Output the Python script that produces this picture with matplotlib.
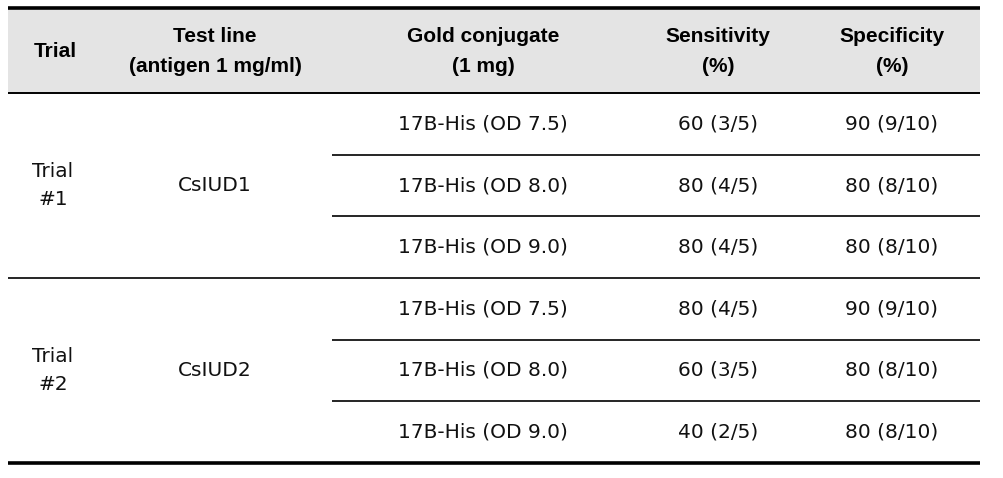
import matplotlib
matplotlib.use("Agg")
import matplotlib.pyplot as plt

# table content
headers = ["Trial", "Test line\n(antigen 1 mg/ml)", "Gold conjugate\n(1 mg)",
           "Sensitivity\n(%)", "Specificity\n(%)"]
trials = ["Trial\n#1", "Trial\n#2"]
test_lines = ["CsIUD1", "CsIUD2"]
conjugates = ["17B-His (OD 7.5)", "17B-His (OD 8.0)", "17B-His (OD 9.0)",
              "17B-His (OD 7.5)", "17B-His (OD 8.0)", "17B-His (OD 9.0)"]
sensitivity = ["60 (3/5)", "80 (4/5)", "80 (4/5)", "80 (4/5)", "60 (3/5)", "40 (2/5)"]
specificity = ["90 (9/10)", "80 (8/10)", "80 (8/10)", "90 (9/10)", "80 (8/10)", "80 (8/10)"]

W, H = 1004, 478
fig = plt.figure(figsize=(W / 100, H / 100), dpi=100)
ax = fig.add_axes([0, 0, 1, 1])
ax.set_xlim(0, W)
ax.set_ylim(H, 0)
ax.axis("off")

x0, x1 = 8, 980
col_x = [55, 215, 483, 718, 892]
top, head_bot = 8, 93
row_h = (463 - head_bot) / 6

# header band
ax.fill_between([x0, x1], top, head_bot, color="#e4e4e4", lw=0)
ax.plot([x0, x1], [top, top], color="black", lw=2.6, solid_capstyle="butt")
ax.plot([x0, x1], [head_bot, head_bot], color="black", lw=1.4, solid_capstyle="butt")
ax.plot([x0, x1], [463, 463], color="black", lw=2.6, solid_capstyle="butt")

hfont = dict(family="Liberation Sans", weight="bold", fontsize=15)
bfont = dict(family="DejaVu Sans", fontsize=14.5, color="#111111")

for x, h in zip(col_x, headers):
    ax.text(x, (top + head_bot) / 2 + 1, h, ha="center", va="center",
            linespacing=1.75, **hfont)

for i in range(6):
    yc = head_bot + (i + 0.5) * row_h
    ax.text(col_x[2], yc, conjugates[i], ha="center", va="center", **bfont)
    ax.text(col_x[3], yc, sensitivity[i], ha="center", va="center", **bfont)
    ax.text(col_x[4], yc, specificity[i], ha="center", va="center", **bfont)
    yb = head_bot + (i + 1) * row_h
    if i in (0, 1, 3, 4):
        ax.plot([332, x1], [yb, yb], color="black", lw=1.2, solid_capstyle="butt")
    elif i == 2:
        ax.plot([x0, x1], [yb, yb], color="black", lw=1.2, solid_capstyle="butt")

for g in range(2):
    yc = head_bot + (3 * g + 1.5) * row_h
    ax.text(col_x[0] - 2, yc, trials[g], ha="center", va="center",
            linespacing=1.55, **bfont)
    ax.text(col_x[1], yc, test_lines[g], ha="center", va="center", **bfont)

fig.savefig("out.png", dpi=100)
